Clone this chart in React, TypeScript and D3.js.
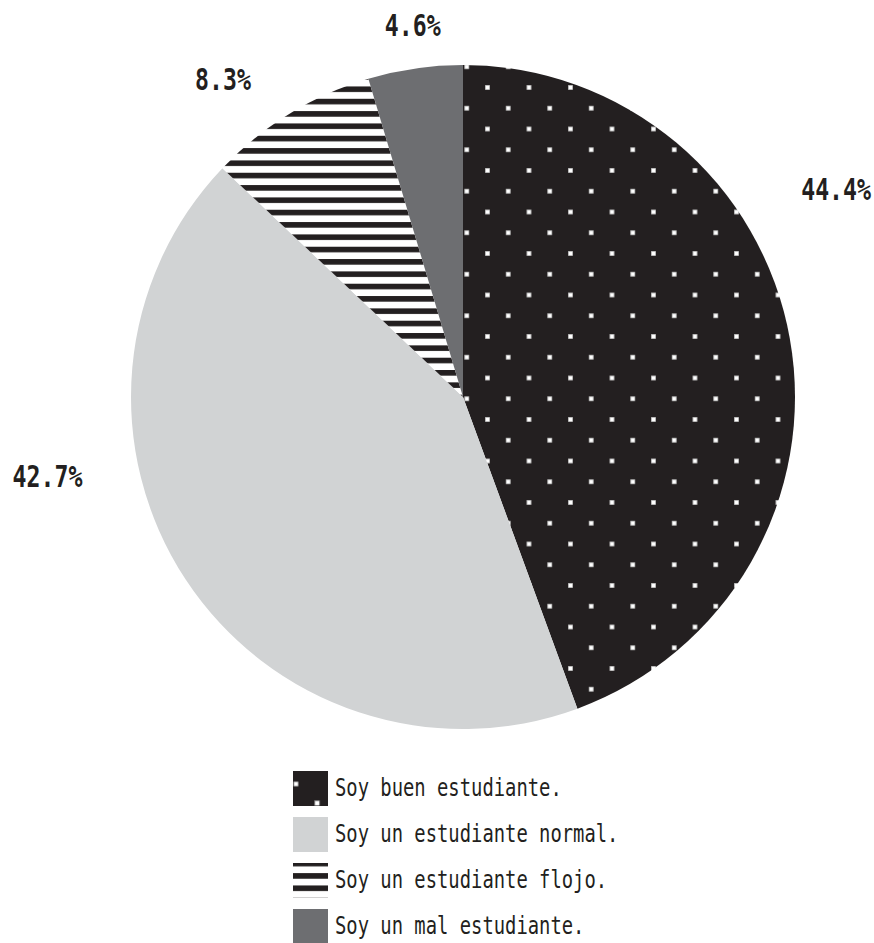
import React from "react";
import * as d3 from "d3";

// Survey answers and their shares (percent)
const categories = [
  "Soy buen estudiante.",
  "Soy un estudiante normal.",
  "Soy un estudiante flojo.",
  "Soy un mal estudiante.",
];
const shares = [44.4, 42.7, 8.3, 4.6];
const valueLabels = ["44.4%", "42.7%", "8.3%", "4.6%"];

// Fill for each slice: pattern ids or plain colours
const fills = ["url(#dots)", "#d1d3d4", "url(#stripes)", "#6d6e71"];
const legendFills = ["url(#dotsLegend)", "#d1d3d4", "url(#stripes)", "#6d6e71"];

// Where each percentage label sits, in polar terms around the pie centre
const labelAngles = [60.9, 259.2, 322.9, 352.3];
const labelRadii = [427, 423, 398, 375];

const W = 874;
const H = 943;
const CX = 463;
const CY = 397;
const R = 332;
const INK = "#231f20";

export default function App() {
  const pie = d3
    .pie<number>()
    .sort(null)
    .value((d) => d)
    .startAngle(0)
    .endAngle(2 * Math.PI);
  const arcs = pie(shares);
  const arc = d3.arc<d3.PieArcDatum<number>>().innerRadius(0).outerRadius(R);

  const legendY = d3
    .scaleBand<number>()
    .domain(d3.range(categories.length))
    .range([771, 771 + 46 * categories.length])
    .paddingInner(0);

  // A narrow, tall monospace look: a mono face stretched vertically
  const font = "'DejaVu Sans Mono', monospace";

  return (
    <svg
      width={W}
      height={H}
      viewBox={`0 0 ${W} ${H}`}
      style={{ position: "absolute", left: 0, top: 0, background: "#fff" }}
    >
      <defs>
        <pattern
          id="dots"
          patternUnits="userSpaceOnUse"
          x={481 - 10.375}
          y={64 - 10.375}
          width={41.5}
          height={41.5}
        >
          <rect width={41.5} height={41.5} fill={INK} />
          <rect x={10.375 - 2.2} y={10.375 - 2.2} width={4.4} height={4.4} fill="#fff" stroke="#bbb" strokeWidth={0.4} />
          <rect x={31.125 - 2.2} y={31.125 - 2.2} width={4.4} height={4.4} fill="#fff" stroke="#bbb" strokeWidth={0.4} />
        </pattern>
        <pattern
          id="dotsLegend"
          patternUnits="userSpaceOnUse"
          x={296 - 10.375}
          y={784 - 10.375}
          width={41.5}
          height={41.5}
        >
          <rect width={41.5} height={41.5} fill={INK} />
          <rect x={10.375 - 2.2} y={10.375 - 2.2} width={4.4} height={4.4} fill="#fff" stroke="#bbb" strokeWidth={0.4} />
          <rect x={31.5 - 2.2} y={29.5 - 2.2} width={4.4} height={4.4} fill="#fff" stroke="#bbb" strokeWidth={0.4} />
        </pattern>
        <pattern id="stripes" patternUnits="userSpaceOnUse" x={0} y={84} width={20} height={12.33}>
          <rect width={20} height={12.33} fill="#fff" />
          <rect width={20} height={5.6} fill={INK} />
        </pattern>
      </defs>

      <g transform={`translate(${CX},${CY})`}>
        {arcs.map((a, i) => (
          <path key={categories[i]} d={arc(a) || ""} fill={fills[i]} />
        ))}
      </g>

      {arcs.map((a, i) => {
        const th = (labelAngles[i] * Math.PI) / 180;
        const x = CX + labelRadii[i] * Math.sin(th);
        const y = CY - labelRadii[i] * Math.cos(th);
        return (
          <text
            key={"lbl" + i}
            transform={`translate(${x},${y + 10.5}) scale(1,1.27)`}
            textAnchor="middle"
            fontFamily={font}
            fontWeight="bold"
            fontSize={23.2}
            fill={INK}
          >
            {valueLabels[i]}
          </text>
        );
      })}

      {categories.map((c, i) => {
        const y = legendY(i) as number;
        return (
          <g key={"leg" + i}>
            <rect x={293} y={y} width={35} height={35} fill={legendFills[i]} />
            <text
              transform={`translate(335,${y + 25}) scale(1,1.33)`}
              fontFamily={font}
              fontSize={18.85}
              fill={INK}
            >
              {c}
            </text>
          </g>
        );
      })}
    </svg>
  );
}
